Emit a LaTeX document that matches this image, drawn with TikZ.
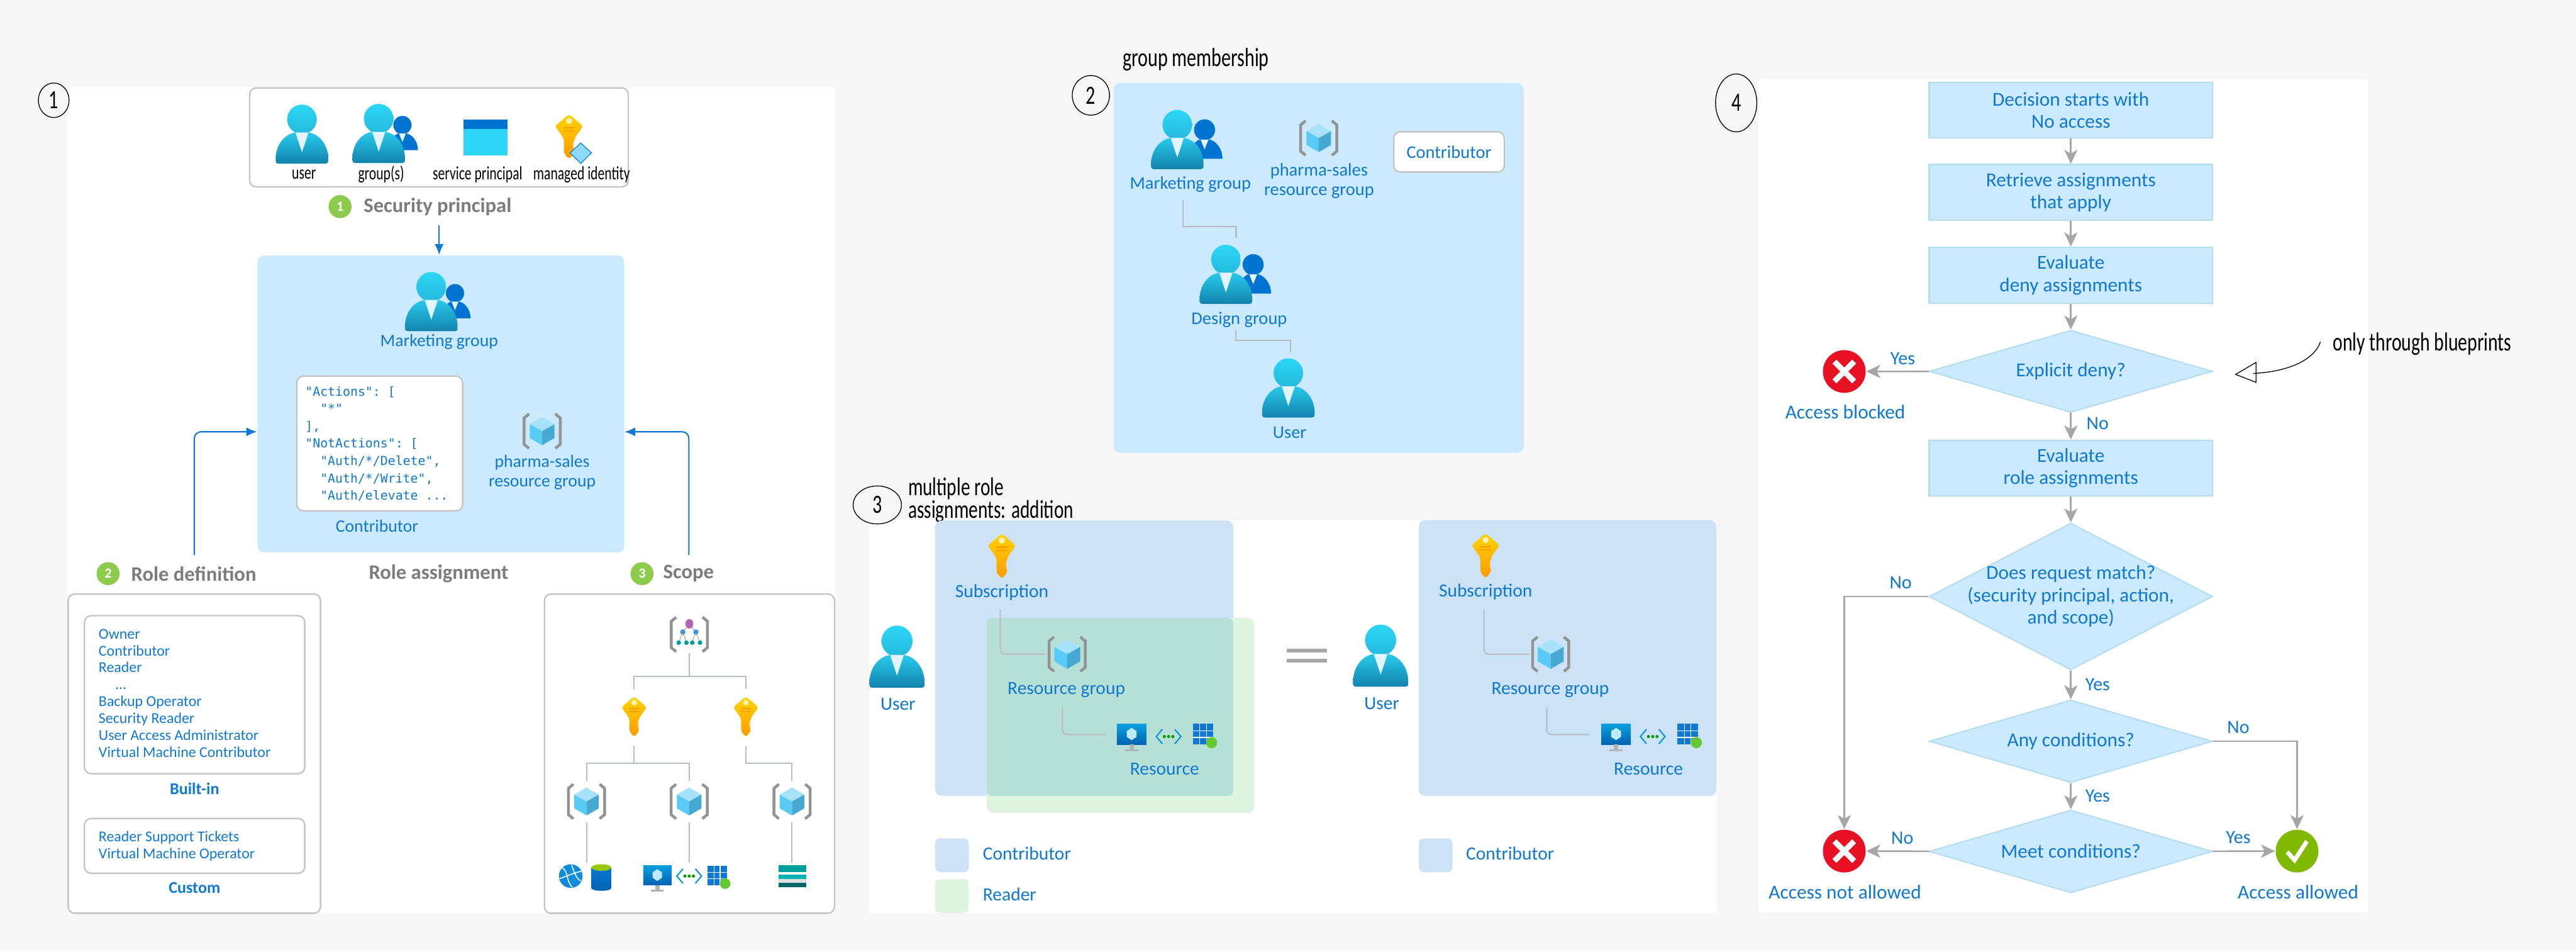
\documentclass[tikz,border=0pt]{standalone}
\usepackage{fontspec}
\usepackage{xcolor}
\setmainfont{Carlito}
\setmonofont{DejaVu Sans Mono}
\newfontfamily\handfont[FakeStretch=0.72]{Carlito}
\usetikzlibrary{arrows.meta,calc,shapes.geometric}
\definecolor{pagebg}{HTML}{F6F6F6}
\definecolor{azure}{HTML}{0F78D4}
\definecolor{skyfill}{HTML}{CCEAFF}
\definecolor{skyedge}{HTML}{B4DDEE}
\definecolor{contribfill}{HTML}{CBE2F7}
\definecolor{readerfill}{HTML}{DFF4DE}
\definecolor{bothfill}{HTML}{B6E0D6}
\definecolor{headgrey}{HTML}{7C7C7C}
\definecolor{wiregrey}{HTML}{A6A6A6}
\definecolor{linkgrey}{HTML}{B8BCBE}
\definecolor{framegrey}{HTML}{C4C4C4}
\definecolor{badgegreen}{HTML}{8CCB4B}
\definecolor{cyantop}{HTML}{2DD6F6}
\definecolor{cyanlow}{HTML}{1283AE}
\definecolor{darkblue}{HTML}{0074D0}
\definecolor{keytop}{HTML}{FFD400}
\definecolor{keylow}{HTML}{FF9A00}
\definecolor{stopred}{HTML}{E81123}
\definecolor{gogreen}{HTML}{7FBA00}

\begin{document}
\begin{tikzpicture}[x=1pt, y=-1pt, line width=0.8pt,
    panel/.style={fill=white, draw=none},
    lbl/.style={text=azure, font=\fontsize{#1}{12}\selectfont, inner sep=0pt, align=center},
    lbl/.default=10.6,
    listlbl/.style={text=azure, font=\fontsize{9.15}{10.3}\selectfont, inner sep=0pt, align=left, anchor=west},
    strong/.style={text=azure, font=\fontsize{10}{12}\selectfont\bfseries, inner sep=0pt},
    head/.style={text=headgrey, font=\fontsize{12.5}{15}\selectfont\bfseries, inner sep=0pt, anchor=west},
    hand/.style={font=\handfont\fontsize{#1}{13.6}\selectfont, inner sep=0pt, align=left, text=black},
    hand/.default=11.5,
    numring/.style={ellipse, draw=black, line width=0.5pt, inner sep=0pt, font=\handfont\fontsize{16}{16}\selectfont},
    badge/.style={circle, fill=badgegreen, text=white, minimum size=14pt, inner sep=0pt, font=\fontsize{8.5}{9}\selectfont\bfseries},
    frame/.style={rectangle, rounded corners=4pt, fill=white, draw=framegrey, line width=0.9pt, inner sep=0pt},
    rolebox/.style={rectangle, rounded corners=4pt, fill=skyfill, inner sep=0pt},
    slot/.style 2 args={rectangle, minimum width=#1, minimum height=#2, inner sep=0pt, outer sep=0pt},
    stepbox/.style={rectangle, fill=skyfill, draw=skyedge, minimum width=172.5pt, minimum height=34pt, inner sep=0pt,
      align=center, text=azure, font=\fontsize{12}{13.6}\selectfont},
    decide/.style={diamond, fill=skyfill, draw=skyedge, aspect=3.4, minimum width=172.5pt, inner sep=-6pt,
      align=center, text=azure, font=\fontsize{12}{13.6}\selectfont},
    flow/.style={draw=wiregrey, line width=1pt, -{Stealth[length=8.5pt,width=8pt,inset=2.2pt]}},
    bluearr/.style={draw=azure, line width=0.8pt, -{Latex[length=6.5pt,width=5.5pt]}},
    link/.style={draw=linkgrey, line width=0.8pt},
    elbow/.style={link, rounded corners=3pt},
    stopsign/.style={circle, fill=stopred, minimum size=26pt, inner sep=0pt},
    gosign/.style={circle, fill=gogreen, minimum size=26pt, inner sep=0pt},
    swatch/.style={rectangle, rounded corners=3pt, minimum width=20.5pt, minimum height=20.5pt, inner sep=0pt},
    personicon/.pic={
      \shade[top color=cyantop, bottom color=cyantop!65!cyanlow] (0,-9) circle (9);
      \shade[top color=cyantop!85!cyanlow, bottom color=cyanlow]
        (-14,18) .. controls (-16,18) and (-16,17) .. (-16,15) .. controls (-16,7) and (-11,0) .. (-4,-1)
        -- (4,-1) .. controls (11,0) and (16,7) .. (16,15) .. controls (16,17) and (16,18) .. (14,18) -- cycle;
      \fill[cyan!12] (-4,-1) -- (4,-1) -- (0,11) -- cycle;
    },
    groupicon/.pic={
      \fill[darkblue] (16.6,-5.9) circle (6.4);
      \fill[darkblue] (8,11.7) -- (27.5,11.7) .. controls (27.5,5) and (23,0.5) .. (19.5,0)
        -- (13.5,0) .. controls (11,1) and (9,4) .. (8,6) -- cycle;
      \fill[cyan!12] (14.2,0) -- (19,0) -- (16.6,6) -- cycle;
      \pic {personicon};
    },
    spicon/.pic={
      \fill[cyantop] (-13.5,-10.8) rectangle (13.5,10.8);
      \fill[darkblue] (-13.5,-10.8) rectangle (13.5,-5);
    },
    keyicon/.pic={
      \shade[top color=keytop, bottom color=keylow, rounded corners=1.5pt]
        (0,-13.7) -- (8.6,-6.5) -- (3.2,1) -- (3.2,3) -- (1.8,4) -- (3.2,5) -- (1.8,6) -- (3.2,7)
        -- (3.2,10) -- (0,13.7) -- (-3.2,10) -- (-3.2,1) -- (-8.6,-6.5) -- cycle;
      \fill[white!70!keytop] (0,-9.6) circle (1.9);
      \fill[keylow] (-3.5,-6) rectangle (3.5,-5.1);
      \fill[keylow] (-3.5,-4) rectangle (3.5,-3.1);
    },
    brackets/.pic={
      \draw[gray!85, line width=1.7pt] (-8,-10.5) -- (-11,-8) -- (-11,8) -- (-8,10.5);
      \draw[gray!85, line width=1.7pt] (8,-10.5) -- (11,-8) -- (11,8) -- (8,10.5);
    },
    rgicon/.pic={
      \pic {brackets};
      \fill[cyan!35] (0,-8.5) -- (7.5,-4.2) -- (0,0) -- (-7.5,-4.2) -- cycle;
      \fill[cyan!65] (-7.5,-4.2) -- (0,0) -- (0,8.5) -- (-7.5,4.2) -- cycle;
      \fill[cyan!80!black!85] (7.5,-4.2) -- (0,0) -- (0,8.5) -- (7.5,4.2) -- cycle;
    },
    mgmticon/.pic={
      \pic {brackets};
      \draw[gray!70, line width=0.4pt] (0,-6) -- (-4,-1.5) -- (-6.5,5) (-4,-1.5) -- (-1.5,5) (0,-6) -- (4,-1.5) -- (1.5,5) (4,-1.5) -- (6.5,5);
      \fill[violet!60] (0,-6.5) ellipse (2.4 and 2.9);
      \fill[azure!80] (-4,-1.5) circle (1.6);
      \fill[azure!80] (4,-1.5) circle (1.6);
      \fill[teal!75!cyan] (-6.5,5) circle (1.4);
      \fill[teal!75!cyan] (-1.8,5) circle (1.4);
      \fill[teal!75!cyan] (1.8,5) circle (1.4);
      \fill[teal!75!cyan] (6.5,5) circle (1.4);
    },
    monitoricon/.pic={
      \shade[top color=azure!70!cyan, bottom color=darkblue!85!black] (-9,-8.4) rectangle (9,4.2);
      \fill[cyan!25] (0,-6) -- (3,-4) -- (3,-0.5) -- (0,1.5) -- (-3,-0.5) -- (-3,-4) -- cycle;
      \fill[gray!60] (-1.4,4.2) rectangle (1.4,7);
      \fill[gray!60] (-4,7) rectangle (4,8.4);
    },
    neticon/.pic={
      \draw[cyan!80!blue, line width=0.8pt] (-3.8,-4.4) -- (-7.5,0) -- (-3.8,4.4);
      \draw[cyan!80!blue, line width=0.8pt] (3.8,-4.4) -- (7.5,0) -- (3.8,4.4);
      \fill[green!60!black] (-2.6,0) circle (0.95);
      \fill[green!60!black] (0,0) circle (0.95);
      \fill[green!60!black] (2.6,0) circle (0.95);
    },
    gridicon/.pic={
      \fill[azure] (-7.2,-7.2) rectangle (5.2,5.2);
      \draw[white, line width=0.5pt] (-3,-7.2) -- (-3,5.2) (1,-7.2) -- (1,5.2) (-7.2,-3) -- (5.2,-3) (-7.2,1) -- (5.2,1);
      \fill[gogreen!80!cyan] (4.2,4.2) circle (3.4);
    },
    globeicon/.pic={
      \fill[azure!85!cyan] (0,0) circle (7.2);
      \draw[white, line width=0.6pt] (-5,-5) .. controls (-1,-2) and (-3,3) .. (1,6.8) (-6.8,1.5) .. controls (-2,0) and (2,-2) .. (6.5,-3) (0.5,-6.8) .. controls (2,-3) and (3,1) .. (6,3);
    },
    drumicon/.pic={
      \shade[top color=azure, bottom color=darkblue!85!black] (-6,-6) -- (-6,6.5) .. controls (-6,8.7) and (6,8.7) .. (6,6.5) -- (6,-6) -- cycle;
      \fill[gogreen!80!yellow] (0,-6) ellipse (6 and 2);
    },
    storeicon/.pic={
      \fill[gray!25] (-8.3,-6.6) rectangle (8.3,6.6);
      \fill[teal!75!cyan] (-8.3,-6.6) rectangle (8.3,-2.4);
      \fill[white] (-8.3,-2.4) rectangle (8.3,-1);
      \fill[teal!60!cyan] (-8.3,-1) rectangle (8.3,1.6);
      \fill[teal!80!black] (-8.3,4) rectangle (8.3,6.6);
    },
    crossmark/.pic={
      \draw[white, line width=3.4pt] (-6,-6) -- (6,6) (-6,6) -- (6,-6);
    },
    tickmark/.pic={
      \draw[white, line width=2.6pt] (-6,0.5) -- (-1.5,5.5) -- (6,-6);
    }]
  \useasboundingbox (0,0) rectangle (1568,578.86);
  \fill[pagebg] (0,0) rectangle (1568,578.86);

  % panels
  \fill[panel] (41,53) rectangle (508.5,555.6);
  \fill[panel] (528.9,316.4) rectangle (1044.7,555.6);
  \fill[panel] (1070.3,48.1) rectangle (1441.8,555.2);

  % 1: security principal row
  \node[numring, minimum width=18.7pt, minimum height=21pt] (ring1) at (32.7,61) {1};
  \node[frame, minimum width=230.5pt, minimum height=60.2pt] (secbox) at (267.2,83.6) {};
  \pic at (183.8,81.6) {personicon};
  \pic[scale=0.87] at (230.5,81.2) {groupicon};
  \pic at (295.5,83.6) {spicon};
  \pic at (346.4,83.2) {keyicon};
  \fill[cyan!45, draw=cyan!70!blue, line width=0.5pt] (353.5,87) -- (360,93) -- (353.5,99.4) -- (347,93) -- cycle;
  \node[hand] (tuser) at (185,106.2) {user};
  \node[hand] (tgroup) at (232,106.2) {group(s)};
  \node[hand] (tsp) at (290.7,106.2) {service principal};
  \node[hand] (tmi) at (354,106.2) {managed identity};
  \node[badge] (bsec) at (207,125.7) {1};
  \node[head] (tsec) at (221,125.7) {Security principal};

  % 1: role assignment
  \node[rolebox, minimum width=223.3pt, minimum height=180.7pt] (roleassign) at (268.35,245.75) {};
  \pic[scale=0.87] at (262.5,183.5) {groupicon};
  \node[lbl] (tmkt) at (267.3,207.9) {Marketing group};
  \node[frame, minimum width=100.9pt, minimum height=82pt] (defbox) at (231.15,269.8) {};
  \node[anchor=west, inner sep=0pt, align=left, text=azure, font=\fontsize{7.6}{10.57}\ttfamily\selectfont] (tjson) at (185.4,270)
    {"Actions": [\\~~"*"\\],\\"NotActions": [\\~~"Auth/*/Delete",\\~~"Auth/*/Write",\\~~"Auth/elevate ...};
  \node[lbl] (tcontrib) at (229.5,319.9) {Contributor};
  \pic at (330,262.3) {rgicon};
  \node[lbl] (tpharma) at (330,287.5) {pharma-sales\\resource group};

  \coordinate (secout) at (267.3,136.9);
  \draw[bluearr] (secout) -- (secout |- roleassign.north);
  \coordinate (roleout) at (118.3,337.7);
  \coordinate (rolein) at (156.4,262.7);
  \coordinate (scopeout) at (419.3,337.7);
  \coordinate (scopein) at (380.2,262.7);
  \draw[bluearr, rounded corners=4pt] (roleout) |- (rolein);
  \draw[bluearr, rounded corners=4pt] (scopeout) |- (scopein);

  \node[badge] (brole) at (65.8,349) {2};
  \node[head] (trole) at (79.5,349) {Role definition};
  \node[head, anchor=center] (tassign) at (267,349) {Role assignment};
  \node[badge] (bscope) at (390.8,349) {3};
  \node[head] (tscope) at (403.3,349) {Scope};

  % 1: role definition list
  \node[frame, minimum width=153.6pt, minimum height=194.2pt] (defouter) at (118.3,458.5) {};
  \node[frame, minimum width=134.1pt, minimum height=96.1pt] (builtbox) at (118.45,422.65) {};
  \node[listlbl] (tbuilt) at (59.7,421.7) {Owner\\Contributor\\Reader\\\hspace*{10pt}...\\Backup Operator\\Security Reader\\User Access Administrator\\Virtual Machine Contributor};
  \node[strong] (builtin) at (118.4,479.9) {Built-in};
  \node[frame, minimum width=134.1pt, minimum height=33.3pt] (custbox) at (118.45,514.65) {};
  \node[listlbl] (tcust) at (59.7,514.8) {Reader Support Tickets\\Virtual Machine Operator};
  \node[strong] (custom) at (118.4,540) {Custom};

  % 1: scope tree
  \node[frame, minimum width=176.6pt, minimum height=194.2pt] (scopebox) at (419.7,458.5) {};
  \node[slot={24pt}{22.4pt}] (mgmt) at (419.6,386) {}; \pic at (mgmt) {mgmticon};
  \node[slot={16pt}{35pt}] (keya) at (386,436.6) {}; \pic[scale=0.9] at (386,436.1) {keyicon};
  \node[slot={16pt}{35pt}] (keyb) at (454,436.6) {}; \pic[scale=0.9] at (454,436.1) {keyicon};
  \node[slot={24pt}{25.4pt}] (rga) at (357,487.6) {}; \pic at (rga) {rgicon};
  \node[slot={24pt}{25.4pt}] (rgb) at (419.5,487.6) {}; \pic at (rgb) {rgicon};
  \node[slot={24pt}{25.4pt}] (rgc) at (482.1,487.6) {}; \pic at (rgc) {rgicon};
  \coordinate (resa) at (357,524.8);
  \coordinate (resb) at (419.5,524.8);
  \coordinate (resc) at (482.1,524.8);
  \draw[link] (mgmt.south) -- ++(0,14.2) coordinate (mgmtjoin);
  \draw[link] (keya.north) |- (mgmtjoin) -| (keyb.north);
  \draw[link] (keya.south) -- ++(0,10.2) coordinate (keyjoin);
  \draw[link] (rga.north) |- (keyjoin) -| (rgb.north);
  \draw[link] (keyb.south) |- ($(rgc.north)+(0,-10.6)$) -- (rgc.north);
  \draw[link] (rga.south) -- (resa);
  \draw[link] (rgb.south) -- (resb);
  \draw[link] (rgc.south) -- (resc);
  \pic at (347.4,533) {globeicon};
  \pic at (366,533.8) {drumicon};
  \pic[scale=0.95] at (400.1,534.5) {monitoricon};
  \pic at (419.5,533) {neticon};
  \pic[scale=0.95] at (437.4,533.6) {gridicon};
  \pic at (482.3,533) {storeicon};

  % 2: group membership
  \node[numring, minimum width=22.7pt, minimum height=24.1pt] (ring2) at (664,58) {2};
  \node[hand=16, anchor=west] (tmember) at (683,36.2) {group membership};
  \node[rolebox, fill=skyfill, minimum width=249.7pt, minimum height=225pt] (memberbg) at (802.65,163) {};
  \node[slot={32pt}{44pt}] (mktp) at (716.6,84.9) {}; \pic at (mktp) {groupicon};
  \node[lbl=10.9] (tmktp) at (724.6,112.3) {Marketing group};
  \pic at (802.7,84) {rgicon};
  \node[lbl=10.9] (tpharmb) at (802.9,110) {pharma-sales\\resource group};
  \node[frame, minimum width=67.3pt, minimum height=24.5pt, text=azure, font=\fontsize{10.9}{12.6}\selectfont] (contribtag) at (882,92.4) {Contributor};
  \node[slot={32pt}{44pt}] (desp) at (746.2,166.9) {}; \pic at (desp) {groupicon};
  \node[lbl=10.9] (tdesp) at (754.3,194.5) {Design group};
  \node[slot={32pt}{40pt}] (userp) at (784.2,236) {}; \pic at (userp) {personicon};
  \node[lbl=10.9] (tuserp) at (785,263.2) {User};
  \coordinate (mktfoot) at (720,121.6);
  \coordinate (desdrop) at (752.4,144.8);
  \coordinate (desfoot) at (752.1,200.5);
  \coordinate (userdrop) at (785.5,214.4);
  \draw[link] (mktfoot) |- ($(desdrop)+(0,-7)$) -- (desdrop);
  \draw[link] (desfoot) |- ($(userdrop)+(0,-7.2)$) -- (userdrop);

  % 3: multiple role assignments
  \node[numring, minimum width=29.4pt, minimum height=23.1pt] (ring3) at (534,307.2) {3};
  \node[hand=15.6, anchor=west] (tmulti) at (552.4,304.3) {multiple role\\assignments: addition};
  \node[rolebox, fill=contribfill, minimum width=181.4pt, minimum height=167.5pt] (scopeleft) at (659.9,400.45) {};
  \node[rolebox, fill=readerfill, minimum width=162.9pt, minimum height=118.6pt] (readerleft) at (682.05,435.3) {};
  \fill[bothfill, rounded corners=3pt] (600.6,376) rectangle (750.6,484.2);
  \node[rolebox, fill=contribfill, minimum width=181.1pt, minimum height=167.8pt] (scoperight) at (954.15,400.3) {};

  \pic[scale=1.05] at (546,399.5) {personicon};
  \node[lbl=11.3] (tusera) at (546.6,428.3) {User};
  \node[slot={18pt}{42pt}] (subkeya) at (609.8,350) {}; \pic at (609.8,338.4) {keyicon};
  \node[lbl=11.3] (tsuba) at (609.8,360.5) {Subscription};
  \node[slot={26pt}{24pt}] (rgl) at (649.6,398) {}; \pic[scale=1.05] at (rgl) {rgicon};
  \node[lbl=11.3] (trgl) at (649.1,419.7) {Resource group};
  \coordinate (subfoota) at (608.8,371);
  \coordinate (rgfoota) at (646.7,430.3);
  \coordinate (resina) at (673,446.9);
  \draw[elbow] (subfoota) |- (rgl.west);
  \draw[elbow] (rgfoota) |- (resina);
  \pic at (688.8,448.8) {monitoricon};
  \pic at (711.3,448.1) {neticon};
  \pic at (733.3,447.6) {gridicon};
  \node[lbl=11.3] (tresa) at (708.9,467.8) {Resource};

  \draw[wiregrey, line width=2.4pt] (783.4,395.9) -- (807.6,395.9);
  \draw[wiregrey, line width=2.4pt] (783.4,402) -- (807.6,402);

  \pic[scale=1.05] at (840.4,398.9) {personicon};
  \node[lbl=11.3] (tuserb) at (841.1,428) {User};
  \node[slot={18pt}{42pt}] (subkeyb) at (904.3,350) {}; \pic at (904.3,338.2) {keyicon};
  \node[lbl=11.3] (tsubb) at (904.3,360.2) {Subscription};
  \node[slot={26pt}{24pt}] (rgr) at (943.9,398) {}; \pic[scale=1.05] at (rgr) {rgicon};
  \node[lbl=11.3] (trgr) at (943.6,419.7) {Resource group};
  \coordinate (subfootb) at (903.3,370.7);
  \coordinate (rgfootb) at (941.5,430.3);
  \coordinate (resinb) at (967.8,446.9);
  \draw[elbow] (subfootb) |- (rgr.west);
  \draw[elbow] (rgfootb) |- (resinb);
  \pic at (983.7,448.8) {monitoricon};
  \pic at (1006,448.1) {neticon};
  \pic at (1028.3,447.6) {gridicon};
  \node[lbl=11.3] (tresb) at (1003.4,467.8) {Resource};

  \node[swatch, fill=contribfill] (swa) at (579.45,520.35) {};
  \node[lbl=11.3, anchor=west] (tswa) at (597.9,519.4) {Contributor};
  \node[swatch, fill=readerfill] (swb) at (579.45,545.15) {};
  \node[lbl=11.3, anchor=west] (tswb) at (597.9,544) {Reader};
  \node[swatch, fill=contribfill] (swc) at (873.85,520.35) {};
  \node[lbl=11.3, anchor=west] (tswc) at (892,519.3) {Contributor};

  % 4: decision flow
  \node[numring, minimum width=25.1pt, minimum height=35.2pt] (ring4) at (1056.8,62.6) {4};
  \node[stepbox] (begin) at (1260.5,67) {Decision starts with\\No access};
  \node[stepbox] (fetch) at (1260.5,117.1) {Retrieve assignments\\that apply};
  \node[stepbox] (evaldeny) at (1260.5,167.35) {Evaluate\\deny assignments};
  \node[decide, minimum height=50pt] (deny) at (1260.5,225.9) {Explicit deny?};
  \node[stepbox] (evalrole) at (1260.5,284.8) {Evaluate\\role assignments};
  \node[decide, aspect=1.94, minimum height=89.3pt] (match) at (1260.5,362.9) {Does request match?\\(security principal, action,\\and scope)};
  \node[decide, minimum height=50.3pt] (cond) at (1260.5,451) {Any conditions?};
  \node[decide, minimum height=50.4pt] (meet) at (1260.5,518) {Meet conditions?};
  \node[stopsign] (blocked) at (1122.6,226) {}; \pic at (blocked) {crossmark};
  \node[stopsign] (denied) at (1122.6,517.8) {}; \pic at (denied) {crossmark};
  \node[gosign] (allowed) at (1398.2,517.8) {}; \pic at (allowed) {tickmark};
  \node[lbl=12] (tblocked) at (1123.2,250.8) {Access blocked};
  \node[lbl=12] (tdenied) at (1123,542.7) {Access not allowed};
  \node[lbl=12] (tallowed) at (1398.8,542.7) {Access allowed};
  \draw[flow] (begin) -- (fetch);
  \draw[flow] (fetch) -- (evaldeny);
  \draw[flow] (evaldeny) -- (deny);
  \draw[flow] (deny) -- (evalrole);
  \draw[flow] (evalrole) -- (match);
  \draw[flow] (match) -- (cond);
  \draw[flow] (cond) -- (meet);
  \draw[flow] (deny) -- (blocked);
  \draw[flow] (match.west) -| (denied.north);
  \draw[flow] (cond.east) -| (allowed.north);
  \draw[flow] (meet) -- (denied);
  \draw[flow] (meet) -- (allowed);
  \node[lbl=11.5] (yesa) at (1158.2,218.3) {Yes};
  \node[lbl=11.5] (noa) at (1276.8,257.5) {No};
  \node[lbl=11.5] (nob) at (1156.9,354.5) {No};
  \node[lbl=11.5] (yesb) at (1276.8,416.4) {Yes};
  \node[lbl=11.5] (noc) at (1362.4,442.4) {No};
  \node[lbl=11.5] (yesc) at (1276.8,484.2) {Yes};
  \node[lbl=11.5] (nod) at (1157.9,510) {No};
  \node[lbl=11.5] (yesd) at (1362.4,509.5) {Yes};

  \node[hand=15.8, anchor=west] (tblue) at (1419.6,209.4) {only through blueprints};
  \coordinate (bluetail) at (1412.4,208);
  \coordinate (bluetip) at (1371.5,227.2);
  \draw[line width=0.5pt] (bluetail) .. controls (1409,218) and (1395,226) .. (bluetip);
  \draw[line width=0.5pt] (1373.2,220.5) -- (1360.8,227.8) -- (1373.2,232.6) -- cycle;
\end{tikzpicture}
\end{document}
